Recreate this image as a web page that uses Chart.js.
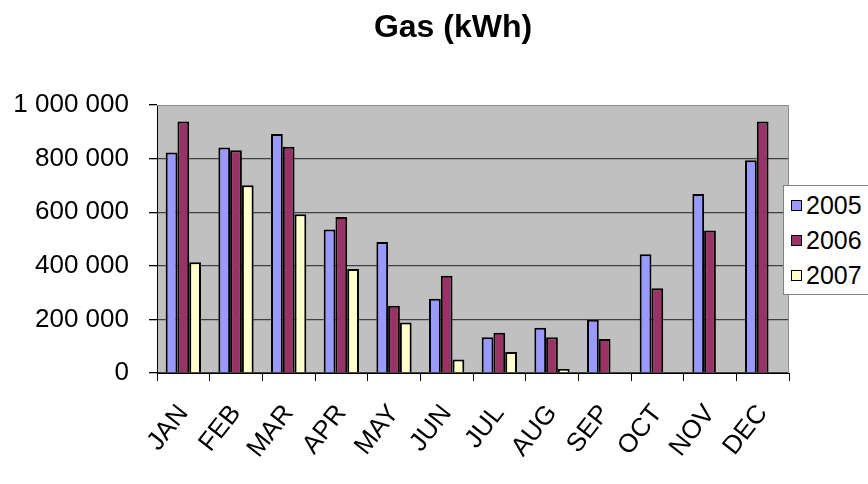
<!DOCTYPE html>
<html lang="en">
<head>
    <meta charset="UTF-8">
    <title>Gas (kWh)</title>
    <script src="https://cdn.jsdelivr.net/npm/chart.js"></script>
    <style>
        html, body { margin: 0; padding: 0; background: #fff; overflow: hidden; }
        #wrap { position: relative; width: 868px; height: 484px; overflow: hidden; }
        #title {
            position: absolute; left: 353px; top: 8px; width: 200px;
            text-align: center; font: bold 32px Arial, "Liberation Sans", sans-serif; color: #000;
        }
        #legend {
            position: absolute; left: 783px; top: 185px; width: 120px; height: 110px;
            background: #fff; border: 1px solid #808080; padding-top: 2px; box-sizing: border-box;
            font: 25px Arial, "Liberation Sans", sans-serif; color: #000;
        }
        .row { height: 35px; line-height: 35px; white-space: nowrap; }
        .sw {
            display: inline-block; width: 9px; height: 9px; border: 1px solid #000;
            margin: 0 4px 0 7px; vertical-align: middle; position: relative; top: -2px;
        }
    </style>
</head>
<body>
<div id="wrap">
    <canvas id="chart" width="868" height="484"></canvas>
    <div id="title">Gas (kWh)</div>
    <div id="legend"></div>
</div>
<script>
    // données
    const months = ['JAN', 'FEB', 'MAR', 'APR', 'MAY', 'JUN', 'JUL', 'AUG', 'SEP', 'OCT', 'NOV', 'DEC'];
    const years = ['2005', '2006', '2007'];
    const gas2005 = [823000, 841000, 892000, 535000, 489000, 277000, 133000, 169000, 199000, 443000, 668000, 794000];
    const gas2006 = [938000, 831000, 844000, 582000, 251000, 363000, 150000, 133000, 127000, 316000, 532000, 938000];
    const gas2007 = [413000, 701000, 592000, 388000, 188000, 50000, 78000, 15000, null, null, null, null];
    const yMax = 1000000;
    const yStep = 200000;

    const colors = ['#9999FF', '#993366', '#FFFFCC'];
    const font = 'Arial, "Liberation Sans", sans-serif';

    // légende en html
    const legend = document.getElementById('legend');
    years.forEach((y, i) => {
        legend.innerHTML += '<div class="row"><span class="sw" style="background:' + colors[i] + '"></span>' + y + '</div>';
    });

    const plotBg = {
        id: 'plotBg',
        beforeDraw(chart) {
            const a = chart.chartArea, ctx = chart.ctx;
            ctx.save();
            ctx.fillStyle = '#C0C0C0';
            ctx.fillRect(a.left, a.top, a.right - a.left, a.bottom - a.top);
            ctx.restore();
        },
        beforeDatasetsDraw(chart) {
            const a = chart.chartArea, ctx = chart.ctx;
            ctx.save();
            ctx.strokeStyle = '#8c8c8c';
            ctx.lineWidth = 1;
            ctx.beginPath();
            ctx.moveTo(a.left, a.top + 0.5);
            ctx.lineTo(a.right - 0.5, a.top + 0.5);
            ctx.lineTo(a.right - 0.5, a.bottom);
            ctx.stroke();
            ctx.restore();
        }
    };

    const series = [gas2005, gas2006, gas2007];
    new Chart(document.getElementById('chart'), {
        type: 'bar',
        data: {
            labels: months,
            datasets: series.map((d, i) => ({
                label: years[i],
                data: d,
                backgroundColor: colors[i],
                borderColor: '#000',
                borderWidth: 2,
                categoryPercentage: 0.67,
                barPercentage: 1.0
            }))
        },
        options: {
            responsive: false,
            animation: false,
            layout: { padding: { left: 0, right: 79, top: 105, bottom: 0 } },
            plugins: {
                legend: { display: false },
                title: { display: false },
                tooltip: { enabled: false }
            },
            scales: {
                x: {
                    afterFit(scale) { scale.height = 111; },
                    grid: {
                        offset: true,
                        drawOnChartArea: false,
                        tickLength: 8,
                        tickColor: '#000'
                    },
                    border: { color: '#000', width: 1 },
                    ticks: {
                        minRotation: 52,
                        maxRotation: 52,
                        padding: 18,
                        color: '#000',
                        font: { family: font, size: 26 }
                    }
                },
                y: {
                    min: 0,
                    max: yMax,
                    afterFit(scale) { scale.width = 157; },
                    grid: {
                        color: ctx => (ctx.tick && ctx.tick.value === yMax) ? 'rgba(0,0,0,0)' : '#404040',
                        tickColor: '#000',
                        tickLength: 8,
                        lineWidth: 1.3
                    },
                    border: { color: '#000', width: 1 },
                    ticks: {
                        stepSize: yStep,
                        padding: 20,
                        color: '#000',
                        font: { family: font, size: 26 },
                        callback: v => v.toString().replace(/\B(?=(\d{3})+(?!\d))/g, ' ')
                    }
                }
            }
        },
        plugins: [plotBg]
    });
</script>
</body>
</html>
